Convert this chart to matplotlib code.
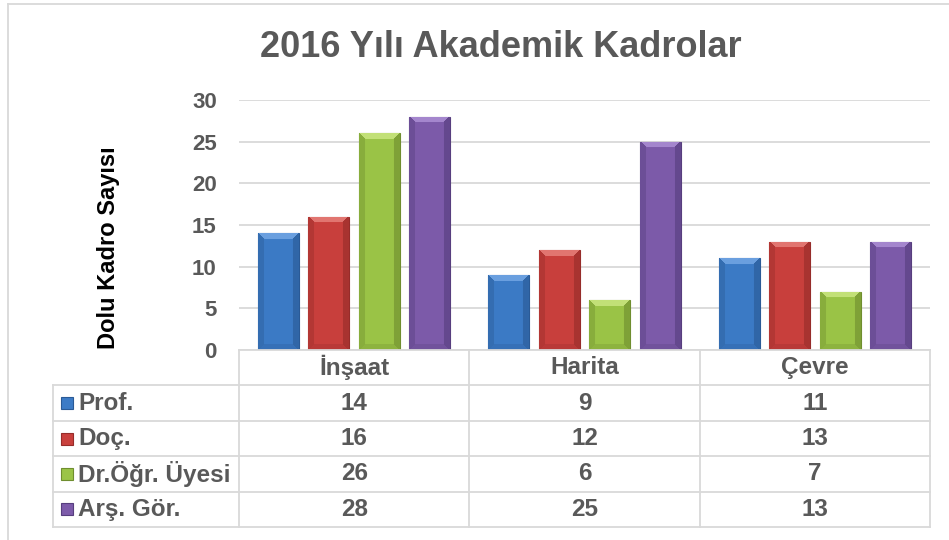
import numpy as np
import matplotlib
matplotlib.use("Agg")
import matplotlib.pyplot as plt
from matplotlib.colors import LinearSegmentedColormap
from matplotlib.lines import Line2D

plt.rcParams['font.family'] = ['Liberation Sans', 'DejaVu Sans']

title = "2016 Yılı Akademik Kadrolar"
ylabel = "Dolu Kadro Sayısı"
categories = ["İnşaat", "Harita", "Çevre"]
series = ["Prof.", "Doç.", "Dr.Öğr. Üyesi", "Arş. Gör."]
prof = [14, 9, 11]
doc = [16, 12, 13]
dr = [26, 6, 7]
ars = [28, 25, 13]
values = [prof, doc, dr, ars]
yticks = [0, 5, 10, 15, 20, 25, 30]

# base, dark, light
colors = [("#3C7BC6", "#2A5A96", "#78AAE6"),
          ("#C9403D", "#962C2A", "#E8857F"),
          ("#9BC447", "#6F8E2F", "#CDE985"),
          ("#7D5BAA", "#573E7E", "#B092D8")]
txt = "#595959"
grid = "#D9D9D9"

W, H = 949, 540
def fx(p): return p / W
def fy(p): return 1 - p / H

fig = plt.figure(figsize=(W / 100, H / 100), dpi=100)

# chart frame
fig.add_artist(Line2D([fx(8), fx(8)], [fy(4), 0], color=grid, lw=1.3))
fig.add_artist(Line2D([fx(8), 1], [fy(4), fy(4)], color=grid, lw=1.3))

ax = fig.add_axes([fx(239), fy(350), fx(930) - fx(239), fy(100) - fy(350)])
x = np.arange(len(categories))
bw = 0.178
step = 0.219
ppu = 250 / 30.0  # pixels per unit, for bevel size

for k, vals in enumerate(values):
    base, dark, light = colors[k]
    bars = ax.bar(x + (k - 1.5) * step, vals, bw, color=base, edgecolor=dark, lw=0.8, zorder=3)
    cmap = LinearSegmentedColormap.from_list("b%d" % k, [(0, dark), (0.55, base), (1, light)])
    for b in bars:
        h = b.get_height()
        nx = 40
        ny = max(int(h * ppu), 2)
        jj, ii = np.meshgrid(np.arange(nx) + 0.5, np.arange(ny) + 0.5)
        d = np.stack([jj, nx - jj, ii, ny - ii])
        near = d.argmin(axis=0)
        dmin = d.min(axis=0)
        shade = np.array([0.32, 0.2, 0.9, 0.38])[near]
        img = np.where(dmin < 6, shade, 0.55)
        im = ax.imshow(img, extent=(b.get_x(), b.get_x() + b.get_width(), 0, h),
                       aspect='auto', cmap=cmap, vmin=0, vmax=1, zorder=4)
        im.set_clip_path(b)

ax.set_xlim(-0.5, 2.5)
ax.set_ylim(0, 30)
ax.set_yticks(yticks)
ax.set_yticklabels([str(t) for t in yticks], fontsize=16, fontweight='bold', color=txt)
ax.tick_params(axis='y', length=0, pad=16)
ax.set_xticks([])
ax.yaxis.grid(True, color=grid, lw=1.3)
ax.set_axisbelow(True)
for s in ax.spines.values():
    s.set_visible(False)

fig.text(fx(501), fy(57), title, ha='center', va='baseline', fontsize=26,
         fontweight='bold', color=txt)
fig.text(fx(108), fy(248), ylabel, ha='center', va='center', rotation=90,
         fontsize=17, fontweight='bold', color='black')

# data table
colw = (930 - 239) / 3.0
xl = -0.5 - (239 - 53) / colw
axt = fig.add_axes([fx(53), fy(527), fx(930) - fx(53), fy(350) - fy(527)])
axt.set_xlim(xl, 2.5)
axt.set_ylim(5, 0)
axt.axis('off')
lk = dict(color=grid, lw=1.3, clip_on=False)
axt.plot([-0.5, 2.5], [0, 0], **lk)
for r in range(1, 6):
    axt.plot([xl, 2.5], [r, r], **lk)
for c in [-0.5, 0.5, 1.5, 2.5]:
    axt.plot([c, c], [0, 5], **lk)
axt.plot([xl, xl], [1, 5], **lk)

fs = 17.5
for i, cat in enumerate(categories):
    axt.text(i, 0.5, cat, ha='center', va='center', fontsize=fs, fontweight='bold', color=txt)
for k, name in enumerate(series):
    base, dark, light = colors[k]
    axt.plot([xl + (67 - 53) / colw], [k + 1.5], marker='s', ms=8.5, mfc=base, mec=dark,
             mew=0.8, clip_on=False)
    axt.text(xl + (78 - 53) / colw, k + 1.5, name, ha='left', va='center', fontsize=fs,
             fontweight='bold', color=txt)
    for i, v in enumerate(values[k]):
        axt.text(i, k + 1.5, str(v), ha='center', va='center', fontsize=fs,
                 fontweight='bold', color=txt)

fig.savefig("out.png", dpi=100)
